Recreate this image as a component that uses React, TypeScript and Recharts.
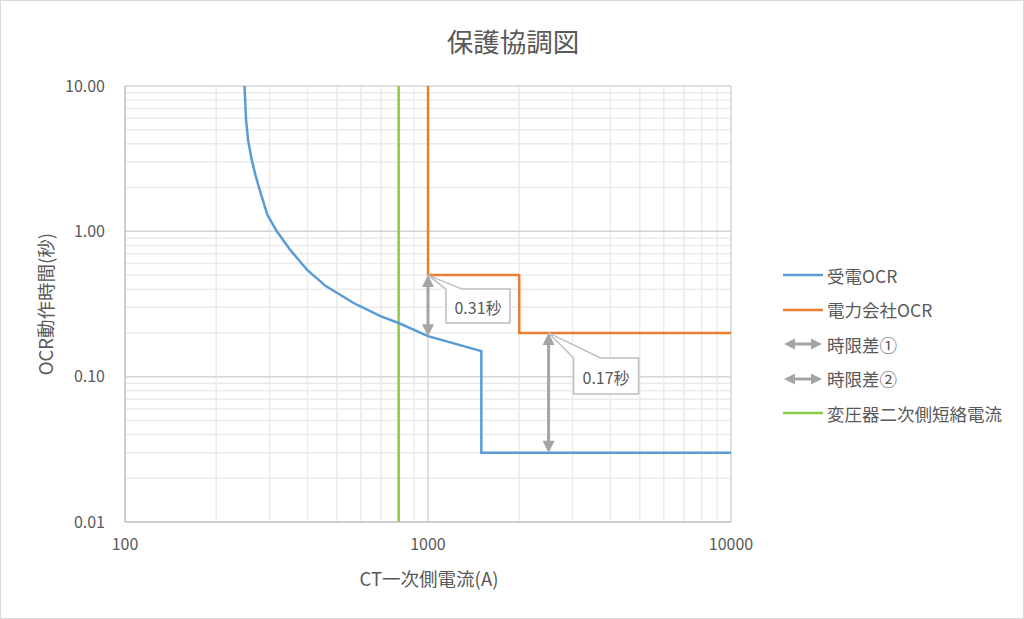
import React from 'react';
import { LineChart, Line, XAxis, YAxis, ReferenceLine, ReferenceDot } from 'recharts';

// axis ticks and gridlines
const X_TICKS = [100, 1000, 10000];
const Y_TICKS = [0.01, 0.1, 1, 10];
const X_MAJOR = [1000, 10000];
const Y_MAJOR = [0.1, 1, 10];
const X_MINOR = [200, 300, 400, 500, 600, 700, 800, 900, 2000, 3000, 4000, 5000, 6000, 7000, 8000, 9000];
const Y_MINOR = [0.02, 0.03, 0.04, 0.05, 0.06, 0.07, 0.08, 0.09, 0.2, 0.3, 0.4, 0.5, 0.6, 0.7, 0.8, 0.9, 2, 3, 4, 5, 6, 7, 8, 9];

// 受電OCR
const RECV_I = [248, 251, 255, 262, 270, 280, 295, 317, 350, 400, 460, 570, 700, 800, 1000, 1500, 1500, 10000];
const RECV_T = [10, 5.8, 4.2, 3.1, 2.4, 1.85, 1.3, 1.0, 0.75, 0.54, 0.42, 0.32, 0.26, 0.234, 0.19, 0.15, 0.03, 0.03];

// 電力会社OCR
const UTIL_I = [1000, 1000, 2000, 2000, 10000];
const UTIL_T = [10, 0.5, 0.5, 0.2, 0.2];

// 変圧器二次側短絡電流
const TR_I = [800, 800];
const TR_T = [0.01, 10];

// 時限差①②
const GAP_I = [1000, 2500];
const GAP_TOP = [0.5, 0.2];
const GAP_BOTTOM = [0.19, 0.03];
const GAP_LABELS = ['0.31秒', '0.17秒'];

const LEGEND_NAMES = ['受電OCR', '電力会社OCR', '時限差①', '時限差②', '変圧器二次側短絡電流'];

const BLUE = '#5B9BD5';
const ORANGE = '#ED7D31';
const GREEN = '#8CCB44';
const GRAY = '#A5A5A5';
const TEXT = '#595959';
const FONT = '"Noto Sans CJK JP", "Noto Sans", sans-serif';

// pixel offsets of the callout boxes from their anchor points
const CALLOUT_OFFSET = [
  { dx: 18, dy: 14, w: 64, h: 34, notch: 16 },
  { dx: 25, dy: 25, w: 65, h: 36, notch: 27 },
];

const toRows = (xs: number[], ys: number[]) => xs.map((i, k) => ({ i, t: ys[k] }));

const Arrow = (props: any) => {
  const { x1, y1, y2 } = props;
  const top = Math.min(y1, y2);
  const bot = Math.max(y1, y2);
  const h = 12;
  const w = 6;
  return (
    <g>
      <line x1={x1} y1={top + h - 1} x2={x1} y2={bot - h + 1} stroke={GRAY} strokeWidth={3} />
      <polygon points={`${x1},${top} ${x1 - w},${top + h} ${x1 + w},${top + h}`} fill={GRAY} />
      <polygon points={`${x1},${bot} ${x1 - w},${bot - h} ${x1 + w},${bot - h}`} fill={GRAY} />
    </g>
  );
};

const Callout = (props: any) => {
  const { cx, cy, text, o } = props;
  const bx = cx + o.dx;
  const by = cy + o.dy;
  const d = `M${bx},${by} L${cx},${cy} L${bx + o.notch},${by} L${bx + o.w},${by} L${bx + o.w},${by + o.h} L${bx},${by + o.h} Z`;
  return (
    <g>
      <path d={d} fill="#ffffff" stroke="#BFBFBF" strokeWidth={1.5} />
      <text
        x={bx + o.w / 2}
        y={by + o.h / 2 + 1}
        textAnchor="middle"
        dominantBaseline="central"
        fontSize={16}
        fill={TEXT}
        fontFamily={FONT}
      >
        {text}
      </text>
    </g>
  );
};

const ArrowIcon = () => (
  <svg width={40} height={14}>
    <line x1={10} y1={7} x2={30} y2={7} stroke={GRAY} strokeWidth={3} />
    <polygon points="1,7 12,1.5 12,12.5" fill={GRAY} />
    <polygon points="39,7 28,1.5 28,12.5" fill={GRAY} />
  </svg>
);

const LineIcon = ({ color }: { color: string }) => (
  <svg width={40} height={14}>
    <line x1={0} y1={7} x2={40} y2={7} stroke={color} strokeWidth={2.5} />
  </svg>
);

const LegendBox = () => {
  const icons = [
    <LineIcon color={BLUE} />,
    <LineIcon color={ORANGE} />,
    <ArrowIcon />,
    <ArrowIcon />,
    <LineIcon color={GREEN} />,
  ];
  return (
    <div style={{ position: 'absolute', left: 782, top: 257, fontSize: 17.5, color: TEXT }}>
      {LEGEND_NAMES.map((name, k) => (
        <div key={name} style={{ display: 'flex', alignItems: 'center', height: 34.5 }}>
          {icons[k]}
          <span style={{ marginLeft: 4, whiteSpace: 'nowrap' }}>{name}</span>
        </div>
      ))}
    </div>
  );
};

const App: React.FC = () => {
  return (
    <div
      style={{
        position: 'absolute',
        left: 0,
        top: 0,
        width: 1024,
        height: 619,
        boxSizing: 'border-box',
        border: '1px solid #D9D9D9',
        background: '#ffffff',
        fontFamily: FONT,
      }}
    >
      <div style={{ position: 'absolute', left: -1, top: -1 }}>
        <LineChart width={1024} height={619} margin={{ top: 86, right: 293, left: 65, bottom: 67 }}>
          <XAxis
            dataKey="i"
            type="number"
            scale="log"
            domain={[100, 10000]}
            ticks={X_TICKS}
            interval={0}
            allowDataOverflow
            height={30}
            tickLine={false}
            tickSize={0}
            tickMargin={17}
            axisLine={{ stroke: '#BFBFBF', strokeWidth: 1.5 }}
            tick={{ fill: TEXT, fontSize: 16, fontFamily: FONT }}
          />
          <YAxis
            dataKey="t"
            type="number"
            scale="log"
            domain={[0.01, 10]}
            ticks={Y_TICKS}
            interval={0}
            allowDataOverflow
            width={60}
            tickLine={false}
            tickSize={0}
            tickMargin={20}
            tickFormatter={(v: number) => v.toFixed(2)}
            axisLine={{ stroke: '#BFBFBF', strokeWidth: 1.5 }}
            tick={{ fill: TEXT, fontSize: 16, fontFamily: FONT }}
          />
          {X_MINOR.map((v) => (
            <ReferenceLine key={`xm-${v}`} x={v} stroke="#EBEBEB" strokeWidth={1.5} />
          ))}
          {Y_MINOR.map((v) => (
            <ReferenceLine key={`ym-${v}`} y={v} stroke="#EBEBEB" strokeWidth={1.5} />
          ))}
          {X_MAJOR.map((v) => (
            <ReferenceLine key={`xM-${v}`} x={v} stroke="#D4D4D4" strokeWidth={1.5} />
          ))}
          {Y_MAJOR.map((v) => (
            <ReferenceLine key={`yM-${v}`} y={v} stroke="#D4D4D4" strokeWidth={1.5} />
          ))}
          <Line
            data={toRows(TR_I, TR_T)}
            dataKey="t"
            name="変圧器二次側短絡電流"
            stroke={GREEN}
            strokeWidth={2.5}
            dot={false}
            type="linear"
            isAnimationActive={false}
          />
          <Line
            data={toRows(UTIL_I, UTIL_T)}
            dataKey="t"
            name="電力会社OCR"
            stroke={ORANGE}
            strokeWidth={2.5}
            dot={false}
            type="linear"
            isAnimationActive={false}
          />
          <Line
            data={toRows(RECV_I, RECV_T)}
            dataKey="t"
            name="受電OCR"
            stroke={BLUE}
            strokeWidth={2.5}
            dot={false}
            type="linear"
            isAnimationActive={false}
          />
          {GAP_I.map((x, k) => (
            <ReferenceLine
              key={`gap-${k}`}
              segment={[
                { x, y: GAP_TOP[k] },
                { x, y: GAP_BOTTOM[k] },
              ]}
              shape={(p: any) => <Arrow {...p} />}
              ifOverflow="visible"
            />
          ))}
          {GAP_I.map((x, k) => (
            <ReferenceDot
              key={`callout-${k}`}
              x={x}
              y={GAP_TOP[k]}
              ifOverflow="visible"
              shape={(p: any) => <Callout {...p} text={GAP_LABELS[k]} o={CALLOUT_OFFSET[k]} />}
            />
          ))}
        </LineChart>
      </div>
      <LegendBox />
      <div
        style={{
          position: 'absolute',
          left: 0,
          width: 1024,
          top: 22,
          textAlign: 'center',
          fontSize: 26.5,
          color: TEXT,
          lineHeight: '36px',
        }}
      >
        保護協調図
      </div>
      <div
        style={{
          position: 'absolute',
          left: 328,
          width: 200,
          top: 565,
          textAlign: 'center',
          fontSize: 18.5,
          color: TEXT,
          lineHeight: '24px',
        }}
      >
        CT一次側電流(A)
      </div>
      <div
        style={{
          position: 'absolute',
          left: 44 - 100,
          top: 303 - 12,
          width: 200,
          textAlign: 'center',
          fontSize: 18.5,
          color: TEXT,
          lineHeight: '24px',
          transform: 'rotate(-90deg)',
        }}
      >
        OCR動作時間(秒)
      </div>
    </div>
  );
};

export default App;
